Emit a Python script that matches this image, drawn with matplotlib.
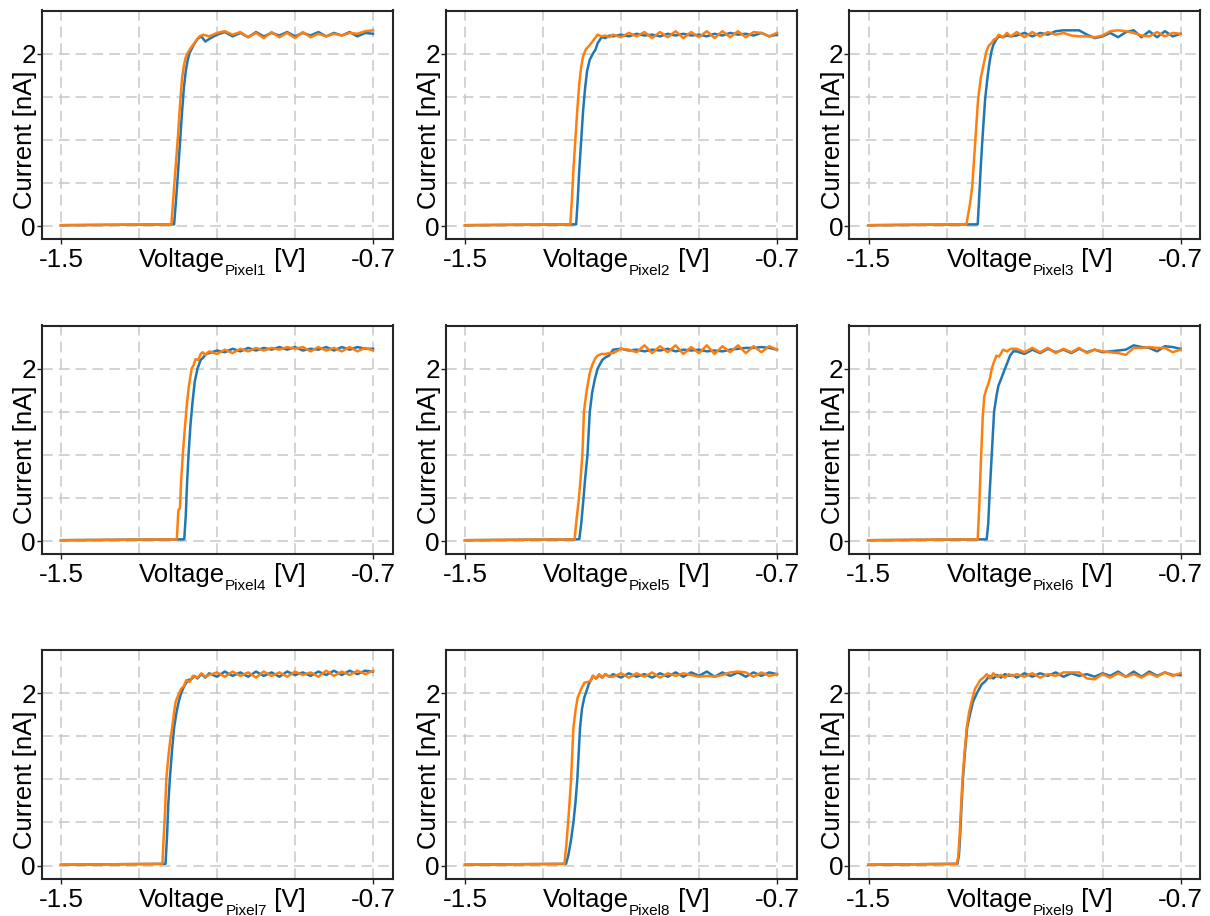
import matplotlib
matplotlib.use("Agg")
import matplotlib.pyplot as plt
from matplotlib.transforms import IdentityTransform

plt.rcParams["font.family"] = ["Liberation Sans", "DejaVu Sans"]
plt.rcParams["axes.unicode_minus"] = False

BLUE = "#1f77b4"
ORANGE = "#ff7f0e"

# shared voltage sweep points on the plateau
PLATEAU_V = [-1.12, -1.10, -1.08, -1.06, -1.04, -1.02, -1.00, -0.98, -0.96, -0.94, -0.92,
             -0.90, -0.88, -0.86, -0.84, -0.82, -0.80, -0.78, -0.76, -0.74, -0.72, -0.70]

# pixel 1
B1_RISE_V = [-1.50, -1.210, -1.205, -1.200, -1.195, -1.190, -1.185, -1.180, -1.175, -1.170, -1.160, -1.150, -1.140, -1.130]
B1_RISE_I = [0.01, 0.02, 0.30, 0.62, 0.96, 1.30, 1.60, 1.80, 1.93, 2.01, 2.10, 2.17, 2.20, 2.14]
O1_RISE_V = [-1.50, -1.217, -1.210, -1.205, -1.200, -1.195, -1.190, -1.185, -1.180, -1.175, -1.165, -1.155, -1.145, -1.135]
O1_RISE_I = [0.01, 0.02, 0.45, 0.75, 1.05, 1.40, 1.70, 1.86, 1.96, 2.01, 2.08, 2.14, 2.20, 2.22]
B1_PLAT = [2.17, 2.22, 2.25, 2.20, 2.24, 2.19, 2.25, 2.20, 2.24, 2.21, 2.25, 2.20, 2.24, 2.21, 2.25, 2.20, 2.24, 2.21, 2.25, 2.20, 2.24, 2.23]
O1_PLAT = [2.20, 2.24, 2.26, 2.22, 2.25, 2.19, 2.24, 2.18, 2.25, 2.19, 2.24, 2.18, 2.25, 2.19, 2.23, 2.20, 2.23, 2.21, 2.24, 2.23, 2.26, 2.27]

# pixel 2
B2_RISE_V = [-1.50, -1.215, -1.211, -1.207, -1.202, -1.197, -1.192, -1.187, -1.180, -1.172, -1.165, -1.160, -1.150, -1.140, -1.130]
B2_RISE_I = [0.01, 0.02, 0.30, 0.65, 1.00, 1.35, 1.60, 1.80, 1.93, 2.00, 2.05, 2.12, 2.19, 2.18, 2.21]
O2_RISE_V = [-1.50, -1.230, -1.226, -1.222, -1.217, -1.212, -1.207, -1.202, -1.197, -1.190, -1.180, -1.170, -1.160, -1.150, -1.140, -1.130]
O2_RISE_I = [0.01, 0.02, 0.30, 0.65, 1.00, 1.35, 1.65, 1.85, 1.97, 2.05, 2.10, 2.16, 2.22, 2.20, 2.21, 2.19]
B2_PLAT = [2.20, 2.22, 2.20, 2.23, 2.21, 2.22, 2.20, 2.23, 2.21, 2.23, 2.21, 2.22, 2.20, 2.23, 2.21, 2.24, 2.22, 2.23, 2.21, 2.24, 2.20, 2.22]
O2_PLAT = [2.22, 2.19, 2.24, 2.20, 2.25, 2.18, 2.25, 2.19, 2.26, 2.18, 2.25, 2.19, 2.26, 2.18, 2.26, 2.19, 2.26, 2.19, 2.25, 2.24, 2.20, 2.24]

# pixel 3
B3_RISE_V = [-1.50, -1.220, -1.216, -1.212, -1.208, -1.201, -1.195, -1.190, -1.185, -1.180, -1.173, -1.166, -1.155, -1.145, -1.135]
B3_RISE_I = [0.01, 0.02, 0.35, 0.70, 1.00, 1.47, 1.72, 1.89, 2.02, 2.10, 2.16, 2.20, 2.19, 2.21, 2.20]
O3_RISE_V = [-1.50, -1.249, -1.240, -1.234, -1.226, -1.219, -1.212, -1.204, -1.198, -1.192, -1.185, -1.179, -1.172, -1.166, -1.155, -1.145, -1.135]
O3_RISE_I = [0.01, 0.02, 0.25, 0.46, 1.00, 1.47, 1.72, 1.89, 2.02, 2.09, 2.12, 2.16, 2.18, 2.22, 2.19, 2.24, 2.20]
B3_PLAT = [2.21, 2.24, 2.20, 2.24, 2.22, 2.26, 2.27, 2.27, 2.27, 2.22, 2.18, 2.20, 2.24, 2.19, 2.25, 2.27, 2.19, 2.26, 2.19, 2.26, 2.20, 2.23]
O3_PLAT = [2.25, 2.19, 2.25, 2.20, 2.25, 2.22, 2.24, 2.21, 2.20, 2.20, 2.19, 2.21, 2.26, 2.27, 2.26, 2.24, 2.21, 2.20, 2.25, 2.20, 2.24, 2.23]

# pixel 4
B4_RISE_V = [-1.50, -1.184, -1.180, -1.177, -1.173, -1.168, -1.163, -1.157, -1.150, -1.142, -1.135, -1.128]
B4_RISE_I = [0.01, 0.02, 0.30, 0.65, 1.00, 1.35, 1.60, 1.85, 2.00, 2.10, 2.13, 2.17]
O4_RISE_V = [-1.50, -1.203, -1.199, -1.195, -1.192, -1.187, -1.182, -1.177, -1.172, -1.165, -1.160, -1.155, -1.148, -1.142, -1.137, -1.130]
O4_RISE_I = [0.01, 0.02, 0.36, 0.38, 0.70, 1.05, 1.33, 1.60, 1.80, 2.00, 2.04, 2.11, 2.10, 2.17, 2.19, 2.16]
B4_PLAT = [2.18, 2.21, 2.19, 2.23, 2.20, 2.24, 2.21, 2.24, 2.22, 2.25, 2.22, 2.25, 2.21, 2.23, 2.22, 2.25, 2.21, 2.25, 2.22, 2.25, 2.23, 2.23]
O4_PLAT = [2.20, 2.17, 2.22, 2.18, 2.23, 2.20, 2.24, 2.21, 2.24, 2.22, 2.25, 2.23, 2.25, 2.20, 2.25, 2.21, 2.24, 2.20, 2.25, 2.20, 2.24, 2.21]

# pixel 5
B5_RISE_V = [-1.50, -1.207, -1.202, -1.197, -1.192, -1.186, -1.180, -1.174, -1.167, -1.160, -1.148, -1.140, -1.131]
B5_RISE_I = [0.01, 0.02, 0.20, 0.45, 0.72, 1.00, 1.50, 1.72, 1.88, 2.00, 2.10, 2.13, 2.15]
O5_RISE_V = [-1.50, -1.219, -1.214, -1.209, -1.204, -1.199, -1.195, -1.190, -1.186, -1.180, -1.173, -1.166, -1.160, -1.150, -1.140, -1.130]
O5_RISE_I = [0.01, 0.02, 0.25, 0.45, 0.70, 1.00, 1.50, 1.68, 1.80, 1.95, 2.05, 2.12, 2.15, 2.17, 2.17, 2.18]
B5_PLAT = [2.22, 2.23, 2.21, 2.22, 2.20, 2.22, 2.21, 2.23, 2.20, 2.22, 2.21, 2.22, 2.20, 2.21, 2.20, 2.22, 2.23, 2.24, 2.24, 2.25, 2.24, 2.22]
O5_PLAT = [2.18, 2.23, 2.22, 2.19, 2.27, 2.18, 2.26, 2.19, 2.27, 2.17, 2.25, 2.18, 2.27, 2.17, 2.26, 2.19, 2.27, 2.18, 2.26, 2.19, 2.26, 2.22]

# pixel 6
B6_RISE_V = [-1.50, -1.197, -1.193, -1.190, -1.184, -1.178, -1.172, -1.167, -1.160, -1.150, -1.143, -1.137, -1.129]
B6_RISE_I = [0.01, 0.02, 0.20, 0.50, 1.00, 1.50, 1.68, 1.80, 1.88, 2.00, 2.08, 2.15, 2.20]
O6_RISE_V = [-1.50, -1.220, -1.216, -1.212, -1.207, -1.203, -1.198, -1.193, -1.188, -1.184, -1.178, -1.172, -1.165, -1.155, -1.145, -1.135]
O6_RISE_I = [0.01, 0.02, 0.40, 0.90, 1.45, 1.68, 1.76, 1.82, 1.90, 2.00, 2.08, 2.15, 2.14, 2.22, 2.20, 2.23]
B6_PLAT = [2.20, 2.17, 2.22, 2.18, 2.23, 2.19, 2.22, 2.18, 2.23, 2.19, 2.22, 2.19, 2.20, 2.21, 2.22, 2.27, 2.25, 2.24, 2.20, 2.26, 2.25, 2.23]
O6_PLAT = [2.23, 2.19, 2.24, 2.19, 2.24, 2.18, 2.23, 2.19, 2.24, 2.18, 2.22, 2.20, 2.19, 2.18, 2.16, 2.24, 2.24, 2.25, 2.24, 2.24, 2.19, 2.22]

# pixel 7
B7_RISE_V = [-1.50, -1.232, -1.228, -1.225, -1.221, -1.216, -1.210, -1.203, -1.197, -1.192, -1.184, -1.175, -1.166, -1.158, -1.150, -1.140, -1.130]
B7_RISE_I = [0.01, 0.02, 0.35, 0.70, 1.00, 1.30, 1.60, 1.80, 1.92, 2.00, 2.08, 2.15, 2.16, 2.20, 2.17, 2.22, 2.18]
O7_RISE_V = [-1.50, -1.240, -1.237, -1.233, -1.230, -1.225, -1.220, -1.215, -1.210, -1.206, -1.199, -1.192, -1.185, -1.179, -1.170, -1.162, -1.150, -1.140, -1.130]
O7_RISE_I = [0.01, 0.02, 0.30, 0.65, 1.00, 1.25, 1.45, 1.60, 1.78, 1.90, 1.98, 2.05, 2.08, 2.15, 2.13, 2.20, 2.18, 2.23, 2.19]
B7_PLAT = [2.23, 2.19, 2.25, 2.20, 2.24, 2.19, 2.25, 2.20, 2.24, 2.19, 2.25, 2.21, 2.24, 2.20, 2.25, 2.21, 2.26, 2.21, 2.26, 2.22, 2.26, 2.25]
O7_PLAT = [2.21, 2.24, 2.19, 2.25, 2.20, 2.24, 2.18, 2.25, 2.20, 2.24, 2.19, 2.25, 2.21, 2.24, 2.19, 2.26, 2.20, 2.25, 2.21, 2.26, 2.22, 2.26]

# pixel 8
B8_RISE_V = [-1.50, -1.241, -1.235, -1.228, -1.222, -1.217, -1.212, -1.205, -1.200, -1.194, -1.183, -1.172, -1.164, -1.156, -1.148, -1.140, -1.130]
B8_RISE_I = [0.01, 0.02, 0.12, 0.30, 0.50, 0.72, 1.00, 1.60, 1.82, 1.95, 2.10, 2.20, 2.17, 2.21, 2.18, 2.22, 2.19]
O8_RISE_V = [-1.50, -1.245, -1.240, -1.234, -1.228, -1.222, -1.216, -1.211, -1.202, -1.194, -1.185, -1.178, -1.172, -1.164, -1.156, -1.148, -1.140, -1.130]
O8_RISE_I = [0.01, 0.02, 0.25, 0.60, 1.00, 1.60, 1.82, 1.95, 2.05, 2.12, 2.13, 2.14, 2.20, 2.17, 2.22, 2.18, 2.22, 2.19]
B8_PLAT = [2.22, 2.18, 2.23, 2.19, 2.22, 2.18, 2.23, 2.19, 2.24, 2.19, 2.24, 2.20, 2.25, 2.19, 2.24, 2.20, 2.24, 2.19, 2.24, 2.20, 2.24, 2.22]
O8_PLAT = [2.19, 2.23, 2.18, 2.23, 2.19, 2.24, 2.18, 2.23, 2.20, 2.23, 2.21, 2.19, 2.20, 2.19, 2.21, 2.24, 2.25, 2.24, 2.19, 2.24, 2.20, 2.22]

# pixel 9
B9_RISE_V = [-1.50, -1.272, -1.268, -1.265, -1.262, -1.258, -1.253, -1.247, -1.240, -1.232, -1.222, -1.210, -1.200, -1.190, -1.180, -1.170, -1.160, -1.150, -1.140, -1.130]
B9_RISE_I = [0.01, 0.02, 0.12, 0.35, 0.65, 1.00, 1.30, 1.60, 1.75, 1.90, 2.00, 2.10, 2.14, 2.20, 2.17, 2.21, 2.18, 2.22, 2.20, 2.21]
O9_RISE_V = [-1.50, -1.274, -1.270, -1.267, -1.263, -1.259, -1.254, -1.248, -1.242, -1.236, -1.227, -1.220, -1.214, -1.205, -1.197, -1.188, -1.180, -1.170, -1.160, -1.150, -1.140, -1.130]
O9_RISE_I = [0.01, 0.02, 0.10, 0.30, 0.65, 1.00, 1.30, 1.60, 1.78, 1.90, 2.05, 2.10, 2.15, 2.18, 2.22, 2.17, 2.23, 2.19, 2.21, 2.18, 2.22, 2.20]
B9_PLAT = [2.18, 2.23, 2.19, 2.23, 2.20, 2.24, 2.19, 2.23, 2.20, 2.22, 2.19, 2.23, 2.20, 2.25, 2.19, 2.25, 2.19, 2.25, 2.20, 2.24, 2.21, 2.21]
O9_PLAT = [2.22, 2.19, 2.23, 2.18, 2.22, 2.20, 2.24, 2.24, 2.24, 2.17, 2.16, 2.22, 2.18, 2.23, 2.19, 2.22, 2.18, 2.23, 2.19, 2.24, 2.20, 2.23]

PANELS = [
    (B1_RISE_V, B1_RISE_I, B1_PLAT, O1_RISE_V, O1_RISE_I, O1_PLAT),
    (B2_RISE_V, B2_RISE_I, B2_PLAT, O2_RISE_V, O2_RISE_I, O2_PLAT),
    (B3_RISE_V, B3_RISE_I, B3_PLAT, O3_RISE_V, O3_RISE_I, O3_PLAT),
    (B4_RISE_V, B4_RISE_I, B4_PLAT, O4_RISE_V, O4_RISE_I, O4_PLAT),
    (B5_RISE_V, B5_RISE_I, B5_PLAT, O5_RISE_V, O5_RISE_I, O5_PLAT),
    (B6_RISE_V, B6_RISE_I, B6_PLAT, O6_RISE_V, O6_RISE_I, O6_PLAT),
    (B7_RISE_V, B7_RISE_I, B7_PLAT, O7_RISE_V, O7_RISE_I, O7_PLAT),
    (B8_RISE_V, B8_RISE_I, B8_PLAT, O8_RISE_V, O8_RISE_I, O8_PLAT),
    (B9_RISE_V, B9_RISE_I, B9_PLAT, O9_RISE_V, O9_RISE_I, O9_PLAT),
]

X_MAJOR = [-1.5, -0.7]
X_MINOR = [-1.3, -1.1, -0.9]
Y_MAJOR = [0, 2]
Y_MINOR = [0.5, 1.0, 1.5]

fig = plt.figure(figsize=(12.1, 9.16), dpi=100)
renderer = fig.canvas.get_renderer()

col_left = [41.5, 445.5, 849.0]
row_top = [10.5, 325.5, 650.0]
ax_w, ax_h = 351.0, 228.5
W, H = 1210.0, 916.0


def voltage_label(ax, n):
    # "Voltage" + small lowered "PixelN" + " [V]", centred under the axes
    parts = [("Voltage", 18.5, 0.0), ("Pixel%d" % n, 11.0, -8.0), (" [V]", 18.5, 0.0)]
    texts = []
    for s, size, _ in parts:
        t = fig.text(0, 0, s, fontsize=size, ha="left", va="baseline", transform=IdentityTransform())
        texts.append(t)
    widths = [t.get_window_extent(renderer).width for t in texts]
    xc = ax.transAxes.transform((0.515, 0))[0]
    yb = ax.transAxes.transform((0, -0.123))[1]
    x = xc - sum(widths) / 2
    for t, w, (_, _, dy) in zip(texts, widths, parts):
        t.set_position((x, yb + dy))
        x += w


for k, (bv, bi, bp, ov, oi, op) in enumerate(PANELS):
    r, c = divmod(k, 3)
    ax = fig.add_axes([col_left[c] / W, 1 - (row_top[r] + ax_h) / H, ax_w / W, ax_h / H])
    ax.set_axisbelow(True)
    ax.plot(bv + PLATEAU_V, bi + bp, color=BLUE, lw=1.8)
    ax.plot(ov + PLATEAU_V, oi + op, color=ORANGE, lw=1.8)

    ax.set_xlim(-1.55, -0.65)
    ax.set_ylim(-0.15, 2.5)
    ax.set_xticks(X_MAJOR)
    ax.set_xticklabels(["-1.5", "-0.7"])
    ax.set_xticks(X_MINOR, minor=True)
    ax.set_yticks(Y_MAJOR)
    ax.set_yticks(Y_MINOR, minor=True)
    ax.tick_params(which="major", labelsize=18.8, length=3.5, width=1.0, color="#222222")
    ax.tick_params(axis="x", which="major", pad=3)
    ax.tick_params(axis="y", which="major", pad=0.5)
    ax.tick_params(which="minor", length=0)
    ax.grid(True, which="both", color="#c8c8c8", lw=1.1, linestyle=(0, (7, 4)))
    for s in ax.spines.values():
        s.set_linewidth(1.5)
        s.set_color("#262626")

    voltage_label(ax, k + 1)
    ax.text(-0.047, 0.433, "Current [nA]", transform=ax.transAxes, rotation=90,
            ha="center", va="center", fontsize=18.5)

fig.savefig("out.png", dpi=100)
